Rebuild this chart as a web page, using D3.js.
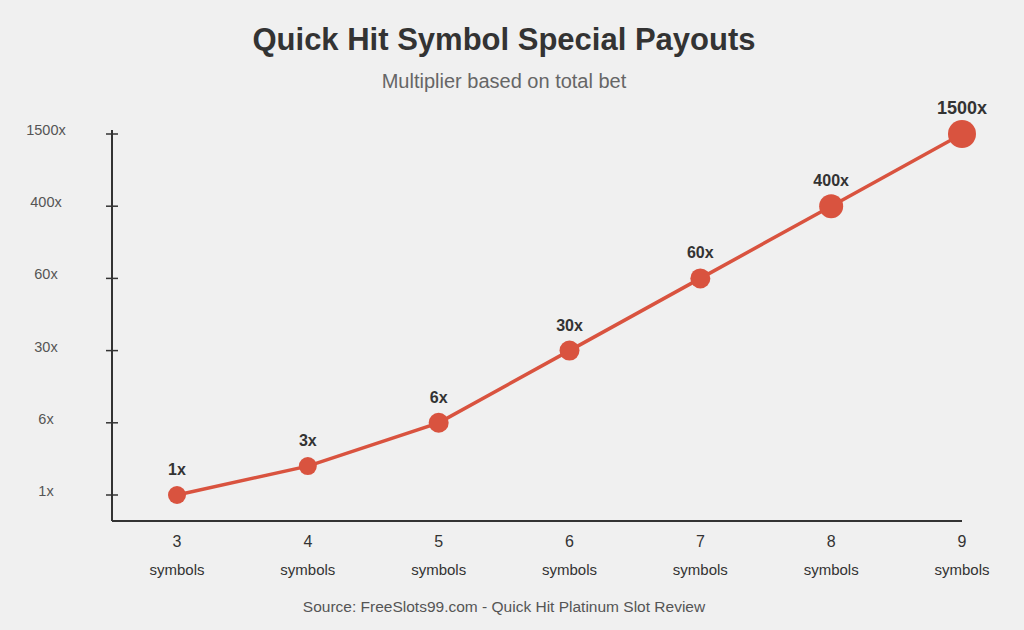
<!DOCTYPE html><html><head><meta charset="utf-8">
<script src="https://cdn.jsdelivr.net/npm/d3@7"></script>
<style>body{margin:0;background:#f0f0f0;font-family:"Liberation Sans",Arial,sans-serif}</style></head><body>
<svg id="c" width="1024" height="630"></svg>
<script>
const categories=["3","4","5","6","7","8","9"];
const values=[1,3,6,30,60,400,1500];
const labels=["1x","3x","6x","30x","60x","400x","1500x"];
const radii=[9,9,10,10,10,12,14];
const tickValues=[1,6,30,60,400,1500];
const tickLabels=["1x","6x","30x","60x","400x","1500x"];
const svg=d3.select("#c");
svg.append("rect").attr("width",1024).attr("height",630).attr("fill","#f0f0f0");
svg.append("text").attr("x",504).attr("y",50).attr("text-anchor","middle").attr("font-size",31).attr("font-weight","bold").attr("fill","#333").text("Quick Hit Symbol Special Payouts");
svg.append("text").attr("x",504).attr("y",88).attr("text-anchor","middle").attr("font-size",20).attr("fill","#666").text("Multiplier based on total bet");
const x=d3.scalePoint().domain(categories).range([177,962]);
const y=d3.scaleLinear().domain(tickValues).range(tickValues.map((d,i)=>495-i*72.2));
const g=svg.append("g");
g.append("line").attr("x1",112).attr("x2",112).attr("y1",130).attr("y2",521).attr("stroke","#333").attr("stroke-width",2);
g.append("line").attr("x1",112).attr("x2",962).attr("y1",521).attr("y2",521).attr("stroke","#333").attr("stroke-width",2);
tickValues.forEach((v,i)=>{
 g.append("line").attr("x1",106).attr("x2",118).attr("y1",y(v)).attr("y2",y(v)).attr("stroke","#333").attr("stroke-width",1.5);
 g.append("text").attr("x",46).attr("y",y(v)+1).attr("text-anchor","middle").attr("font-size",14.5).attr("fill","#555").text(tickLabels[i]);
});
categories.forEach(c=>{
 g.append("text").attr("x",x(c)).attr("y",547).attr("text-anchor","middle").attr("font-size",16).attr("fill","#333").text(c);
 g.append("text").attr("x",x(c)).attr("y",575).attr("text-anchor","middle").attr("font-size",15).attr("fill","#333").text("symbols");
});
const line=d3.line().x((d,i)=>x(categories[i])).y(d=>y(d));
g.append("path").datum(values).attr("d",line).attr("fill","none").attr("stroke","#d9533f").attr("stroke-width",3.5);
values.forEach((v,i)=>{
 g.append("circle").attr("cx",x(categories[i])).attr("cy",y(v)).attr("r",radii[i]).attr("fill","#d9533f");
 g.append("text").attr("x",x(categories[i])).attr("y",y(v)-20).attr("text-anchor","middle").attr("font-size",i==6?18:16).attr("font-weight","bold").attr("fill","#333").text(labels[i]);
});
svg.append("text").attr("x",504).attr("y",612).attr("text-anchor","middle").attr("font-size",15.5).attr("fill","#555").text("Source: FreeSlots99.com - Quick Hit Platinum Slot Review");
</script></body></html>
